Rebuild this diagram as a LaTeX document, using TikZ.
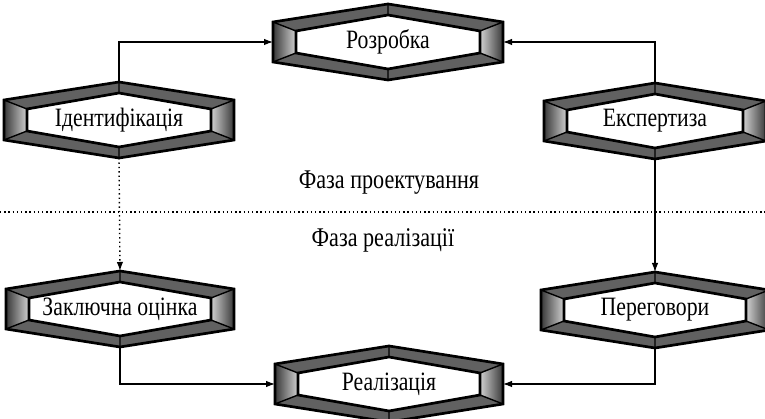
\documentclass[tikz,border=0pt]{standalone}
\usepackage{fontspec}
\setmainfont[FakeStretch=0.82]{Liberation Serif}
\usetikzlibrary{arrows.meta}
\tikzset{
  bandfill/.style={fill=black!62},
  sidepanelL/.style={left color=black!78, right color=black!18},
  sidepanelR/.style={left color=black!18, right color=black!78},
  hexline/.style={line width=2.7pt, line join=miter},
  diagline/.style={line width=1.4pt},
  lbl/.style={font=\fontsize{26.5}{30}\selectfont, inner sep=0pt},
  phase/.style={font=\fontsize{27}{30}\selectfont, inner sep=0pt},
  conn/.style={line width=1.1pt, -{Latex[length=9pt,width=6.5pt]}},
  sep/.style={line width=1.4pt, dash pattern=on 1.4pt off 2.8pt},
}
\newcommand\hexshape[5]{%
  \begin{scope}[shift={(#2,#3)}]
    \fill[bandfill] (-#4,20)--(0,38)--(#4,20)--(#4-23,11)--(0,27)--(-#4+23,11)--cycle;
    \fill[bandfill] (-#4,-20)--(0,-38)--(#4,-20)--(#4-23,-11)--(0,-27)--(-#4+23,-11)--cycle;
    \shade[sidepanelL] (-#4,20)--(-#4+23,11)--(-#4+23,-11)--(-#4,-20)--cycle;
    \shade[sidepanelR] (#4,20)--(#4-23,11)--(#4-23,-11)--(#4,-20)--cycle;
    \fill[white] (-#4+23,11)--(0,27)--(#4-23,11)--(#4-23,-11)--(0,-27)--(-#4+23,-11)--cycle;
    \draw[diagline] (-#4,20)--(-#4+23,11) (0,38)--(0,27) (#4,20)--(#4-23,11)
                    (-#4,-20)--(-#4+23,-11) (0,-38)--(0,-27) (#4,-20)--(#4-23,-11);
    \draw[hexline] (-#4+23,11)--(0,27)--(#4-23,11)--(#4-23,-11)--(0,-27)--(-#4+23,-11)--cycle;
    \draw[hexline] (-#4,20)--(0,38)--(#4,20)--(#4,-20)--(0,-38)--(-#4,-20)--cycle;
  \end{scope}
  \node[lbl] (#1) at (#2,#3) {#5};
  \coordinate (#1-t) at (#2,#3+38);
  \coordinate (#1-b) at (#2,#3-38);
  \coordinate (#1-l) at (#2-#4,#3);
  \coordinate (#1-r) at (#2+#4,#3);
}
\begin{document}
\begin{tikzpicture}[x=1pt,y=1pt]
\useasboundingbox (0,0) rectangle (765,419);
\hexshape{R}{388}{377}{115}{Розробка}
\hexshape{I}{119}{299}{115}{Ідентифікація}
\hexshape{E}{655}{298}{111}{Експертиза}
\hexshape{Z}{120}{110}{114}{Заключна оцінка}
\hexshape{P}{655}{109}{114}{Переговори}
\hexshape{Re}{389}{35}{114}{Реалізація}
\draw[conn] (I-t) |- (R-l);
\draw[conn] (E-t) |- (R-r);
\draw[conn, line width=1.4pt, dash pattern=on 1.4pt off 3pt] (I-b) -- (Z-t);
\draw[conn] (E-b) -- (P-t);
\draw[conn] (Z-b) |- (Re-l);
\draw[conn] (P-b) |- (Re-r);
\coordinate (sepL) at (0,207);
\coordinate (sepR) at (765,207);
\draw[sep] (sepL) -- (sepR);
\node[phase] (ph1) at (389,236) {Фаза проектування};
\node[phase] (ph2) at (383,179) {Фаза реалізації};
\end{tikzpicture}
\end{document}
